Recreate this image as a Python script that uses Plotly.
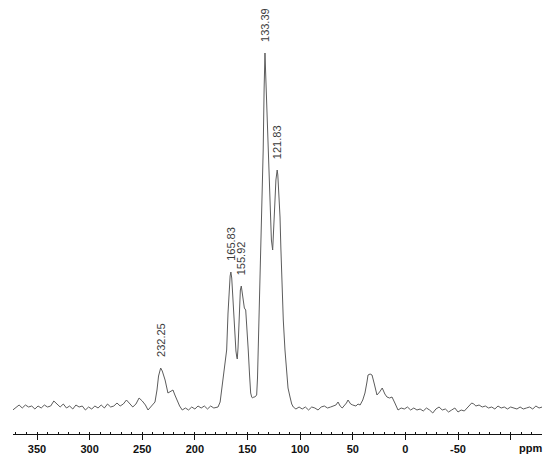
import numpy as np
from plotly import graph_objects as go


# chemical shift (ppm) and intensity, region by region
ppm_left = [373, 370, 367, 364, 361, 358, 355, 352, 349, 346,
            343, 340, 337, 334, 331, 328, 325, 322, 319, 316,
            313, 310, 307, 304, 301, 298, 295, 292, 289, 286,
            283, 280, 277, 274, 271, 268, 265, 262, 259, 256,
            253, 250, 247, 244.5, 241]
int_left = [-2, 1, 3, 0, 3, 1, 2, -1, 2, 0,
            3, 1, 2, 7, 4, 1, 4, 0, 2, -1,
            3, 1, 2, -2, 1, -1, 2, 0, 3, 0,
            4, 1, 2, 5, 2, 4, 8, 5, 1, 4,
            10, 7, 3, -2, 2]

ppm_carbonyl = [237.9, 236, 234.5, 232.5, 231, 229.5, 228.3, 225.6, 223, 220.8,
                219, 217, 214.5, 212, 209, 206, 203, 200, 197, 194,
                191, 188, 185, 182, 179]
int_carbonyl = [6, 18, 32, 40, 37, 32, 28, 15, 17, 18,
                13, 8, 2, -2, 0, -2, 1, -1, 2, 0,
                2, -1, 2, 0, 1]

ppm_aromatic = [178, 176, 174.5, 173, 171.5, 169.8, 168.5, 167.5, 166.5, 165.8,
                165, 164, 163, 162, 161, 160.2, 159.7, 159, 158.3, 157.5,
                156.8, 155.9, 155, 154, 153, 151.7, 150.5, 149.3, 148, 147,
                146, 145.1, 144, 143, 142.2, 141.3, 140.5, 139.8, 138.5, 137.2,
                136, 135.1, 134.2, 133.4, 132.6, 131.5, 130.3, 129.4, 128.6, 127.3,
                126.1, 125, 124, 123, 121.8, 121.2, 120, 119.1, 118.3, 117.5,
                116, 114.4, 113, 111.5, 109.6, 108, 106.5, 104]
int_aromatic = [1, 6, 18, 30, 44, 58, 95, 120, 132, 136,
                130, 112, 90, 70, 57, 51, 49, 60, 85, 108,
                118, 122, 116, 107, 100, 98, 82, 58, 32, 15,
                11, 10, 11, 11, 12, 13, 30, 58, 110, 158,
                205, 258, 320, 355, 330, 295, 258, 222, 191, 168,
                158, 178, 205, 228, 238, 233, 215, 191, 160, 125,
                88, 58, 35, 20, 11, 4, 1, -1]

ppm_aliphatic = [101, 98, 95, 92, 89, 86, 83, 80, 77, 74,
                 71, 68, 66, 64, 62, 60, 58, 56, 54.5, 52,
                 50, 47, 45, 43, 40.5, 38.4, 36.5, 35.5, 33.5, 31.7,
                 29.5, 27, 24.5, 22, 19.5, 17.5, 15, 12.7, 10, 7]
int_aliphatic = [1, -1, 1, -2, 1, 0, -2, 1, 2, 0,
                 1, 2, 3, 6, 2, 0, 2, 5, 8, 4,
                 3, 2, 4, 3, 8, 15, 26, 33, 34, 33,
                 24, 13, 16, 20, 14, 11, 10, 11, 5, -2]

ppm_right = [4, 1, -2, -5, -8, -11, -14, -17, -20, -23,
             -26, -29, -32, -35, -38, -41, -44, -47, -50, -53,
             -56, -59, -61, -63, -65, -67, -70, -73, -76, -79,
             -82, -85, -88, -91, -94, -97, -100, -103, -106, -109,
             -112, -115, -118, -121, -124, -127, -130]
int_right = [0, -1, 1, -2, 0, -2, -1, -3, 0, -2,
             -5, -1, 1, -2, -1, -4, -2, 0, -4, -2,
             -3, 0, 2, 5, 4, 2, 3, 1, 2, 0,
             1, -1, 2, 0, 1, -1, 1, 0, -1, 1,
             -1, 0, 1, -1, 2, 0, 1]

peaks = [232.25, 165.83, 155.92, 133.39, 121.83]

tick_vals = [350, 300, 250, 200, 150, 100, 50, 0, -50, -100]
tick_text = ['350', '300', '250', '200', '150', '100', '50', '0', '-50', '']


def main():
    x = np.array(ppm_left + ppm_carbonyl + ppm_aromatic + ppm_aliphatic + ppm_right)
    y = np.array(int_left + int_carbonyl + int_aromatic + int_aliphatic + int_right)

    fig = go.Figure(go.Scatter(x=x, y=y, mode='lines', hoverinfo='skip',
                               line=dict(color='#5c5c5c', width=1)))

    # peak labels sit above each maximum
    for p in peaks:
        near = np.abs(x - p) <= 1.0
        top = y[near].max()
        fig.add_annotation(x=p, y=top, text=f'{p:.2f}', textangle=-90,
                           showarrow=False, xanchor='center', yanchor='bottom',
                           yshift=9, font=dict(size=11, color='#3a3a3a',
                                               family='Liberation Sans'))

    fig.add_annotation(x=-118.5, y=0, xref='x', yref='paper', text='ppm',
                       showarrow=False, yanchor='middle', yshift=-14,
                       font=dict(size=11, color='#111', family='Liberation Sans',
                                 weight='bold'))

    fig.update_xaxes(range=[372.8, -129.8], tickmode='array', tickvals=tick_vals,
                     ticktext=tick_text, ticks='outside', ticklen=5, tickwidth=1.2,
                     tickcolor='#111', showline=True, linecolor='#111', linewidth=1.4,
                     showgrid=False, zeroline=False,
                     tickfont=dict(size=11, color='#111', family='Liberation Sans',
                                   weight='bold'),
                     minor=dict(tick0=0, dtick=10, ticks='inside', ticklen=2,
                                tickcolor='#111', tickwidth=1))
    fig.update_yaxes(range=[-26, 408], visible=False, showgrid=False, zeroline=False)

    fig.update_layout(width=550, height=459, margin=dict(l=13, r=8, t=0, b=25),
                      plot_bgcolor='white', paper_bgcolor='white', showlegend=False)
    # drop the browser's default body margin so the figure fills the window
    fig.write_html('out.html', config={'displayModeBar': False},
                   post_script="document.body.style.margin='0';"
                               "document.body.style.overflow='hidden';")


if __name__ == '__main__':
    main()
